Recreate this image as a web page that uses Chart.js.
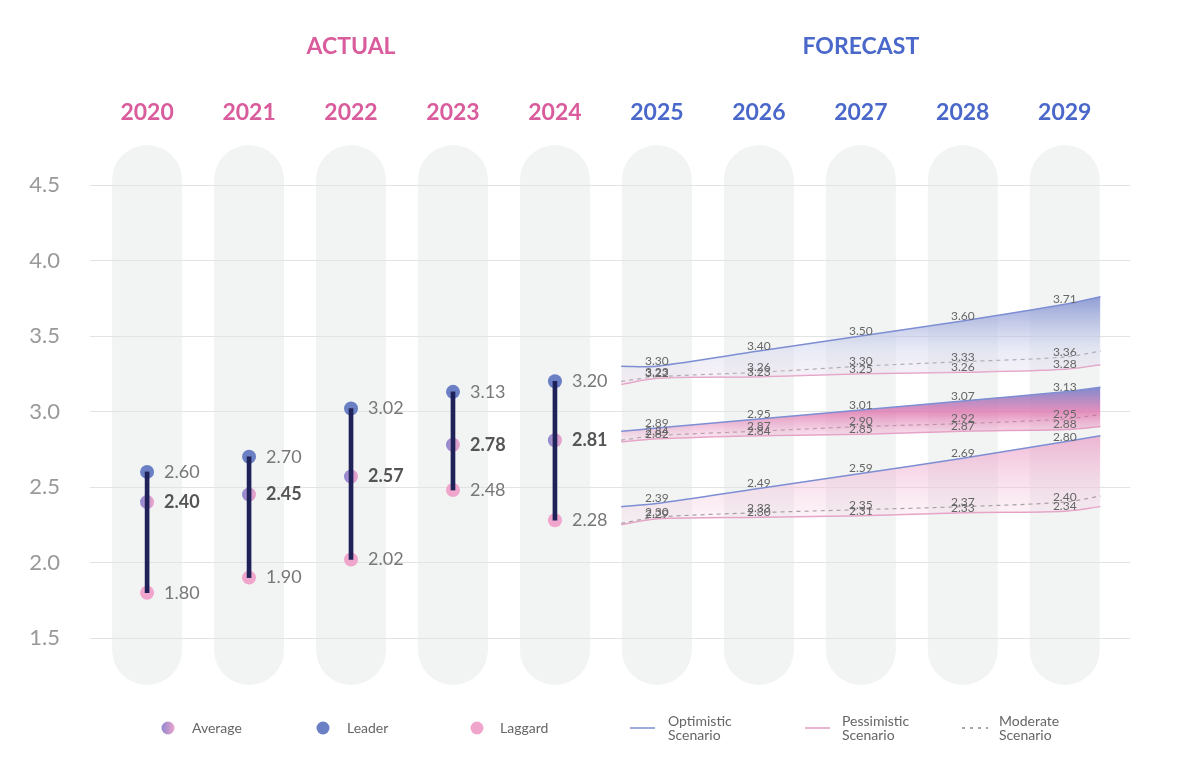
<!DOCTYPE html>
<html><head><meta charset="utf-8">
<script src="https://cdn.jsdelivr.net/npm/chart.js@4"></script>
<style>html,body{margin:0;background:#fff}#wrap{width:1200px;height:784px}</style>
</head><body><div id="wrap"><canvas id="c"></canvas></div>
<script>
const years = [2020, 2021, 2022, 2023, 2024, 2025, 2026, 2027, 2028, 2029]
const actualYears = [2020, 2021, 2022, 2023, 2024]
const leader = [2.60, 2.70, 3.02, 3.13, 3.20]
const average = [2.40, 2.45, 2.57, 2.78, 2.81]
const laggard = [1.80, 1.90, 2.02, 2.48, 2.28]
// forecast x: band start edge, 2025..2029, band end edge
const fcX = [2024.65, 2025, 2026, 2027, 2028, 2029, 2029.35]
const leadOpt = [3.30, 3.30, 3.40, 3.50, 3.60, 3.71, 3.76]
const leadMod = [3.20, 3.23, 3.26, 3.30, 3.33, 3.36, 3.40]
const leadPes = [3.18, 3.22, 3.23, 3.25, 3.26, 3.28, 3.31]
const avgOpt = [2.87, 2.89, 2.95, 3.01, 3.07, 3.13, 3.16]
const avgMod = [2.81, 2.84, 2.87, 2.90, 2.92, 2.95, 2.98]
const avgPes = [2.80, 2.82, 2.84, 2.85, 2.87, 2.88, 2.90]
const lagOpt = [2.37, 2.39, 2.49, 2.59, 2.69, 2.80, 2.84]
const lagMod = [2.26, 2.30, 2.33, 2.35, 2.37, 2.40, 2.44]
const lagPes = [2.25, 2.29, 2.30, 2.31, 2.33, 2.34, 2.37]
const yTicks = [1.5, 2.0, 2.5, 3.0, 3.5, 4.0, 4.5]

const PINK = '#d95c9c', BLUE = '#4a68c9'
const pts = (xs, ys) => ys.map((v, i) => ({ x: xs[i], y: v }))

function bandFill(top, bot, stops) {
  return ctx => {
    const ch = ctx.chart
    if (!ch.chartArea) return 'rgba(0,0,0,0)'
    const y = ch.scales.y
    const g = ch.ctx.createLinearGradient(0, y.getPixelForValue(Math.max(...top)), 0, y.getPixelForValue(Math.min(...bot)))
    stops.forEach(s => g.addColorStop(s[0], s[1]))
    return g
  }
}

function scenario(opt, mod, pes, stops) {
  return [
    { type: 'line', data: pts(fcX, opt), borderColor: '#7d8ed3', borderWidth: 1.5, pointRadius: 0, tension: 0.3,
      fill: { target: '+2' }, backgroundColor: bandFill(opt, pes, stops) },
    { type: 'line', data: pts(fcX, mod), borderColor: '#8a8a8a', borderWidth: 1.2, borderDash: [4, 4], pointRadius: 0, tension: 0.3, fill: false },
    { type: 'line', data: pts(fcX, pes), borderColor: '#e39cc2', borderWidth: 1.5, pointRadius: 0, tension: 0.3, fill: false },
  ]
}

const avgGrad = ctx => {
  const el = ctx.element
  if (!el || el.x == null) return '#b58ac8'
  const g = ctx.chart.ctx.createLinearGradient(el.x - 7, el.y, el.x + 7, el.y)
  g.addColorStop(0, '#8a86cf'); g.addColorStop(1, '#f0a6cc')
  return g
}

const decor = {
  id: 'decor',
  beforeDraw(chart) {
    const c = chart.ctx, x = chart.scales.x
    c.save()
    c.fillStyle = '#f2f4f4'
    years.forEach(yr => {
      const px = x.getPixelForValue(yr)
      c.beginPath(); c.roundRect(px - 35, 145, 70, 540, 35); c.fill()
    })
    c.textAlign = 'center'; c.textBaseline = 'middle'
    c.font = 'bold 23px Lato'
    years.forEach(yr => {
      c.fillStyle = yr <= 2024 ? PINK : BLUE
      c.fillText(String(yr), x.getPixelForValue(yr), 113)
    })
    c.fillStyle = PINK; c.fillText('ACTUAL', x.getPixelForValue(2022), 47)
    c.fillStyle = BLUE; c.fillText('FORECAST', x.getPixelForValue(2027), 47)
    // legend
    c.textAlign = 'left'; c.font = '14px Lato'
    const ly = 728
    const g = c.createLinearGradient(161, 0, 175, 0); g.addColorStop(0, '#8a86cf'); g.addColorStop(1, '#f0a6cc')
    c.fillStyle = g; c.beginPath(); c.arc(168, ly, 6.5, 0, 7); c.fill()
    c.fillStyle = '#6b80c4'; c.beginPath(); c.arc(323, ly, 6.5, 0, 7); c.fill()
    c.fillStyle = '#f0a6cc'; c.beginPath(); c.arc(477, ly, 6.5, 0, 7); c.fill()
    c.fillStyle = '#666'
    c.fillText('Average', 192, ly); c.fillText('Leader', 347, ly); c.fillText('Laggard', 500, ly)
    c.fillText('Optimistic', 668, ly - 7); c.fillText('Scenario', 668, ly + 7)
    c.fillText('Pessimistic', 842, ly - 7); c.fillText('Scenario', 842, ly + 7)
    c.fillText('Moderate', 999, ly - 7); c.fillText('Scenario', 999, ly + 7)
    c.lineWidth = 1.5
    c.strokeStyle = '#7d8ed3'; c.beginPath(); c.moveTo(630, ly); c.lineTo(655, ly); c.stroke()
    c.strokeStyle = '#e39cc2'; c.beginPath(); c.moveTo(805, ly); c.lineTo(830, ly); c.stroke()
    c.strokeStyle = '#888'; c.setLineDash([3, 5]); c.beginPath(); c.moveTo(962, ly); c.lineTo(988, ly); c.stroke()
    c.restore()
  },
  afterDatasetsDraw(chart) {
    const c = chart.ctx, x = chart.scales.x, y = chart.scales.y
    c.save(); c.textBaseline = 'middle'; c.textAlign = 'left'
    actualYears.forEach((yr, i) => {
      const px = x.getPixelForValue(yr) + 17
      c.font = '18px Lato'; c.fillStyle = '#777'
      c.fillText(leader[i].toFixed(2), px, y.getPixelForValue(leader[i]))
      c.fillText(laggard[i].toFixed(2), px, y.getPixelForValue(laggard[i]))
      c.font = 'bold 18px Lato'; c.fillStyle = '#555'
      c.fillText(average[i].toFixed(2), px, y.getPixelForValue(average[i]))
    })
    c.textAlign = 'center'; c.textBaseline = 'bottom'; c.font = '12px Lato'; c.fillStyle = '#666'
    ;[leadOpt, leadMod, leadPes, avgOpt, avgMod, avgPes, lagOpt, lagMod, lagPes].forEach(s => {
      for (let i = 1; i <= 5; i++) c.fillText(s[i].toFixed(2), x.getPixelForValue(fcX[i]), y.getPixelForValue(s[i]) + 1)
    })
    c.restore()
  }
}

new Chart(document.getElementById('c').getContext('2d'), {
  type: 'scatter',
  data: {
    datasets: [
      ...scenario(leadOpt, leadMod, leadPes, [[0, 'rgba(112,128,202,0.75)'], [0.6, 'rgba(210,215,238,0.5)'], [1, 'rgba(245,225,238,0.4)']]),
      ...scenario(avgOpt, avgMod, avgPes, [[0, 'rgba(110,120,200,0.85)'], [0.45, 'rgba(222,110,170,0.75)'], [1, 'rgba(245,210,228,0.4)']]),
      ...scenario(lagOpt, lagMod, lagPes, [[0, 'rgba(232,140,188,0.6)'], [1, 'rgba(248,220,234,0.25)']]),
      { type: 'bar', data: actualYears.map((yr, i) => ({ x: yr, y: [laggard[i], leader[i]] })), backgroundColor: '#1f2258', barThickness: 4 },
      { data: pts(actualYears, leader), backgroundColor: '#6b80c4', pointRadius: 7, pointBorderWidth: 0 },
      { data: pts(actualYears, laggard), backgroundColor: '#f0a6cc', pointRadius: 7, pointBorderWidth: 0 },
      { data: pts(actualYears, average), backgroundColor: avgGrad, pointRadius: 7, pointBorderWidth: 0 },
    ]
  },
  options: {
    responsive: true, maintainAspectRatio: false, animation: false,
    layout: { padding: { top: 185, bottom: 146, left: 0, right: 70 } },
    plugins: { legend: { display: false }, tooltip: { enabled: false } },
    scales: {
      x: { type: 'linear', min: 2019.44, max: 2029.64, offset: false, bounds: 'ticks', display: false },
      y: {
        min: 1.5, max: 4.5, border: { display: false },
        afterFit: s => { s.width = 90 },
        afterBuildTicks: s => { s.ticks = yTicks.map(v => ({ value: v })) },
        grid: { color: '#e2e4e4', lineWidth: 1, drawTicks: false },
        ticks: { padding: 30, color: '#999', font: { family: 'Lato', size: 22 }, callback: v => v.toFixed(1) }
      }
    }
  },
  plugins: [decor]
})
</script></body></html>
